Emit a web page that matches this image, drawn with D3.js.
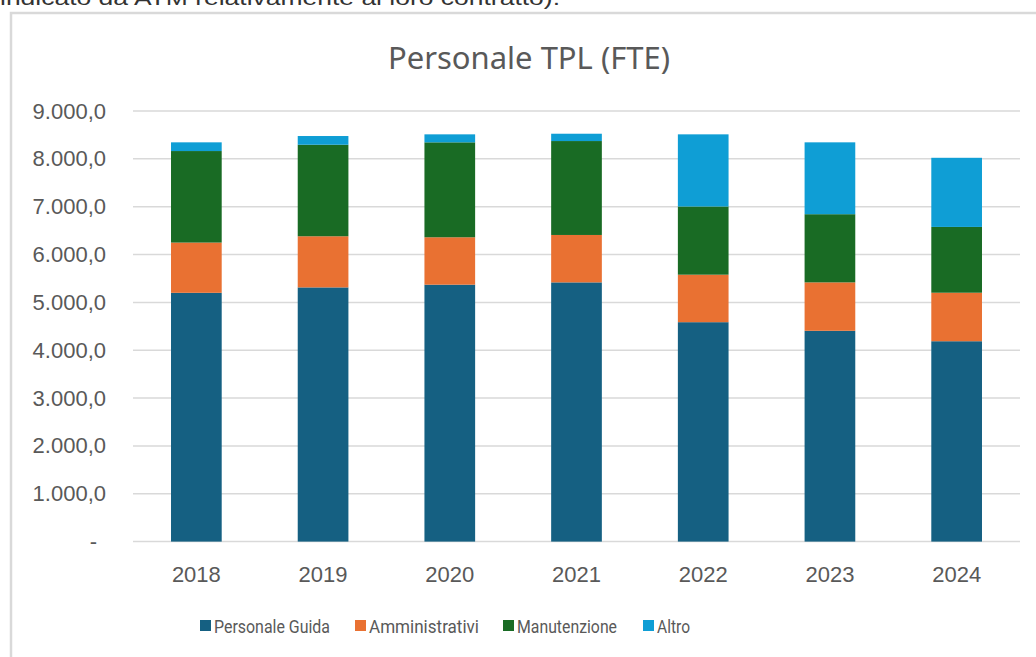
<!DOCTYPE html>
<html>
<head>
<meta charset="utf-8">
<script src="https://cdn.jsdelivr.net/npm/d3@7"></script>
<style>
  html, body { margin: 0; padding: 0; background: #fff; }
  svg { display: block; }
</style>
</head>
<body>
<svg id="chart" width="1036" height="657"></svg>
<script>
const years = ["2018", "2019", "2020", "2021", "2022", "2023", "2024"];
const seriesNames = ["Personale Guida", "Amministrativi", "Manutenzione", "Altro"];
const personaleGuida = [5200, 5313, 5370, 5418, 4586, 4406, 4188];
const amministrativi = [1050, 1069, 991, 991, 993, 1012, 1014];
const manutenzione   = [1913, 1913, 1984, 1963, 1425, 1425, 1375];
const altro          = [182, 182, 167, 153, 1508, 1502, 1445];
const yTicks = [0, 1000, 2000, 3000, 4000, 5000, 6000, 7000, 8000, 9000];
const colors = ["#156082", "#E97132", "#196B24", "#0F9ED5"];

const svg = d3.select("#chart");
const W = 1036, H = 657;

// cropped text from document above the chart
svg.append("text")
  .attr("x", 0).attr("y", 5)
  .attr("font-family", "Liberation Sans, Arial, sans-serif")
  .attr("font-size", 21).attr("fill", "#333")
  .attr("textLength", 560).attr("lengthAdjust", "spacingAndGlyphs")
  .text("indicato da ATM relativamente al loro contratto).");

// chart frame
svg.append("rect")
  .attr("x", 11).attr("y", 13)
  .attr("width", W + 20).attr("height", H + 20)
  .attr("fill", "#fff").attr("stroke", "#d9d9d9").attr("stroke-width", 2.5);

const plot = { left: 133, right: 1020, top: 111, bottom: 541.6 };

const x = d3.scaleBand().domain(years)
  .range([plot.left, plot.right]).paddingInner(0.6).paddingOuter(0.3);
const y = d3.scaleLinear().domain([0, 9000]).range([plot.bottom, plot.top]);

// gridlines
svg.append("g").selectAll("line").data(yTicks).join("line")
  .attr("x1", plot.left).attr("x2", plot.right)
  .attr("y1", d => y(d)).attr("y2", d => y(d))
  .attr("stroke", "#d9d9d9").attr("stroke-width", 1.5);

// y axis labels
const fmt = d => d === 0 ? "-" : d3.format(",.1f")(d).replace(/,/g, "#").replace(/\./g, ",").replace(/#/g, ".");
const yAxis = d3.axisLeft(y).tickValues(yTicks).tickFormat(fmt).tickSize(0).tickPadding(0);
const yg = svg.append("g").attr("transform", `translate(106,0)`).call(yAxis);
yg.select(".domain").remove();
yg.selectAll("text")
  .attr("font-family", "Liberation Sans, Arial, sans-serif")
  .attr("font-size", 22).attr("fill", "#595959")
  .attr("dx", d => d === 0 ? -9 : 0);

// stacked bars
const rows = years.map((yr, i) => ({
  year: yr,
  "Personale Guida": personaleGuida[i],
  "Amministrativi": amministrativi[i],
  "Manutenzione": manutenzione[i],
  "Altro": altro[i]
}));
const stacked = d3.stack().keys(seriesNames)(rows);
svg.append("g").selectAll("g").data(stacked).join("g")
  .attr("fill", (d, i) => colors[i])
  .selectAll("rect").data(d => d).join("rect")
  .attr("x", d => x(d.data.year))
  .attr("width", x.bandwidth())
  .attr("y", d => y(d[1]))
  .attr("height", d => y(d[0]) - y(d[1]));

// x axis labels
const xAxis = d3.axisBottom(x).tickSize(0).tickPadding(0);
const xg = svg.append("g").attr("transform", `translate(0,${plot.bottom})`).call(xAxis);
xg.select(".domain").remove();
xg.selectAll("text")
  .attr("font-family", "Liberation Sans, Arial, sans-serif")
  .attr("font-size", 22).attr("fill", "#595959")
  .attr("dy", 0).attr("y", 40);

// title
svg.append("text")
  .attr("x", 529).attr("y", 69)
  .attr("text-anchor", "middle")
  .attr("font-family", "Noto Sans, sans-serif")
  .attr("font-size", 31).attr("fill", "#595959")
  .text("Personale TPL (FTE)");

// legend
const legendX = [200, 355, 503, 643];
const legendW = [116, 110, 100, 33];
const lg = svg.append("g");
seriesNames.forEach((name, i) => {
  lg.append("rect").attr("x", legendX[i]).attr("y", 620)
    .attr("width", 11).attr("height", 11).attr("fill", colors[i]);
  lg.append("text").attr("x", legendX[i] + 14).attr("y", 633)
    .attr("font-family", "Roboto, sans-serif")
    .attr("font-size", 19).attr("fill", "#595959")
    .attr("textLength", legendW[i]).attr("lengthAdjust", "spacingAndGlyphs")
    .text(name);
});
</script>
</body>
</html>
